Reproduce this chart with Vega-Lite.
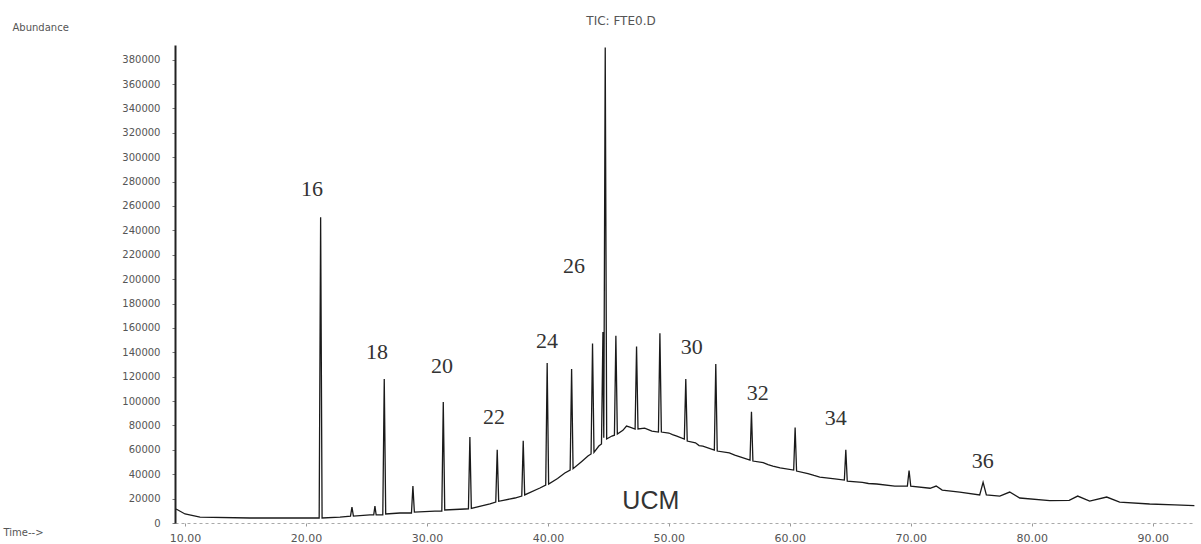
{
  "$schema": "https://vega.github.io/schema/vega-lite/v6.json",
  "autosize": {"type": "none"},
  "padding": {"left": 175, "top": 45, "right": 6, "bottom": 21},
  "width": 1020,
  "height": 478,
  "background": "white",
  "title": {"text": "TIC: FTE0.D", "fontSize": 12, "font": "DejaVu Sans", "fontWeight": "normal", "color": "#555", "anchor": "middle", "dx": -64, "offset": -6},
  "config": {"view": {"stroke": null}, "axis": {"grid": false}},
  "datasets": {
    "trace": [
      {"t": 9.26, "a": 11500}, {"t": 10.0, "a": 7400}, {"t": 11.24, "a": 4900}, {"t": 15.37, "a": 4100},
      {"t": 19.5, "a": 4100}, {"t": 21.09, "a": 4100}, {"t": 21.21, "a": 250800}, {"t": 21.33, "a": 4100},
      {"t": 22.81, "a": 4900}, {"t": 23.68, "a": 5700}, {"t": 23.8, "a": 13100}, {"t": 23.92, "a": 5700},
      {"t": 25.29, "a": 6600}, {"t": 25.6, "a": 6600}, {"t": 25.7, "a": 13900}, {"t": 25.8, "a": 6600},
      {"t": 26.35, "a": 6600}, {"t": 26.47, "a": 118000}, {"t": 26.59, "a": 7400}, {"t": 27.77, "a": 8200},
      {"t": 28.72, "a": 8200}, {"t": 28.84, "a": 30300}, {"t": 28.96, "a": 9000}, {"t": 30.66, "a": 9800},
      {"t": 31.23, "a": 9800}, {"t": 31.35, "a": 99200}, {"t": 31.47, "a": 10700}, {"t": 33.14, "a": 11500},
      {"t": 33.43, "a": 11600}, {"t": 33.55, "a": 70500}, {"t": 33.67, "a": 12000}, {"t": 35.21, "a": 15600},
      {"t": 35.69, "a": 17200}, {"t": 35.81, "a": 60100}, {"t": 35.93, "a": 17800}, {"t": 37.27, "a": 20500},
      {"t": 37.84, "a": 22100}, {"t": 37.96, "a": 67500}, {"t": 38.08, "a": 23000}, {"t": 39.34, "a": 28700},
      {"t": 39.82, "a": 31100}, {"t": 39.94, "a": 131200}, {"t": 40.06, "a": 32000}, {"t": 40.8, "a": 36500},
      {"t": 41.4, "a": 41000}, {"t": 41.84, "a": 43400}, {"t": 41.96, "a": 126200}, {"t": 42.08, "a": 44500},
      {"t": 42.8, "a": 50500}, {"t": 43.31, "a": 54900}, {"t": 43.57, "a": 56600}, {"t": 43.69, "a": 147300},
      {"t": 43.81, "a": 58000}, {"t": 44.21, "a": 63100}, {"t": 44.43, "a": 64800}, {"t": 44.55, "a": 156600},
      {"t": 44.62, "a": 70000}, {"t": 44.74, "a": 390000}, {"t": 44.86, "a": 68900}, {"t": 45.29, "a": 71300},
      {"t": 45.5, "a": 72000}, {"t": 45.62, "a": 153500}, {"t": 45.74, "a": 73000}, {"t": 46.2, "a": 76000},
      {"t": 46.5, "a": 79500}, {"t": 46.78, "a": 78700}, {"t": 47.21, "a": 77100}, {"t": 47.33, "a": 144800},
      {"t": 47.45, "a": 77100}, {"t": 48.0, "a": 77800}, {"t": 48.6, "a": 75400}, {"t": 49.14, "a": 74600},
      {"t": 49.26, "a": 155700}, {"t": 49.38, "a": 74600}, {"t": 50.0, "a": 73800}, {"t": 50.3, "a": 72500},
      {"t": 50.66, "a": 71300}, {"t": 51.28, "a": 68900}, {"t": 51.4, "a": 118000}, {"t": 51.52, "a": 67200},
      {"t": 52.2, "a": 65800}, {"t": 52.5, "a": 63500}, {"t": 52.81, "a": 63100}, {"t": 53.76, "a": 59800},
      {"t": 53.88, "a": 130300}, {"t": 54.0, "a": 59000}, {"t": 55.0, "a": 57500}, {"t": 55.45, "a": 55700},
      {"t": 56.71, "a": 51600}, {"t": 56.83, "a": 91200}, {"t": 56.95, "a": 50800}, {"t": 57.8, "a": 49500},
      {"t": 58.2, "a": 47800}, {"t": 58.6, "a": 46700}, {"t": 59.2, "a": 45200}, {"t": 60.32, "a": 43400},
      {"t": 60.44, "a": 78400}, {"t": 60.56, "a": 42600}, {"t": 61.5, "a": 40500}, {"t": 62.0, "a": 39000},
      {"t": 62.48, "a": 37700}, {"t": 63.72, "a": 36100}, {"t": 64.51, "a": 35200}, {"t": 64.63, "a": 60100},
      {"t": 64.75, "a": 34400}, {"t": 66.0, "a": 33300}, {"t": 66.5, "a": 32400}, {"t": 67.19, "a": 32000},
      {"t": 68.68, "a": 30300}, {"t": 69.72, "a": 30300}, {"t": 69.86, "a": 42900}, {"t": 70.0, "a": 30300},
      {"t": 71.6, "a": 28500}, {"t": 72.1, "a": 30300}, {"t": 72.6, "a": 27000}, {"t": 74.05, "a": 25400},
      {"t": 75.7, "a": 23000}, {"t": 75.98, "a": 33400}, {"t": 76.25, "a": 23000}, {"t": 77.36, "a": 22100},
      {"t": 78.18, "a": 25400}, {"t": 79.01, "a": 20500}, {"t": 81.49, "a": 18300}, {"t": 83.1, "a": 18600},
      {"t": 83.8, "a": 22100}, {"t": 84.79, "a": 18000}, {"t": 86.2, "a": 21300}, {"t": 87.27, "a": 17200},
      {"t": 89.75, "a": 15600}, {"t": 91.82, "a": 14800}, {"t": 93.45, "a": 14200}
    ],
    "labels": [
      {"t": 20.5, "a": 273800, "txt": "16"},
      {"t": 25.87, "a": 140200, "txt": "18"},
      {"t": 31.24, "a": 128700, "txt": "20"},
      {"t": 35.54, "a": 86900, "txt": "22"},
      {"t": 39.92, "a": 149200, "txt": "24"},
      {"t": 42.15, "a": 210700, "txt": "26"},
      {"t": 51.9, "a": 144300, "txt": "30"},
      {"t": 57.36, "a": 106600, "txt": "32"},
      {"t": 63.8, "a": 86100, "txt": "34"},
      {"t": 75.95, "a": 50800, "txt": "36"}
    ],
    "ucm": [
      {"t": 48.51, "a": 18000, "txt": "UCM"}
    ]
  },
  "layer": [
    {
      "data": {"name": "trace"},
      "mark": {"type": "line", "color": "#1a1a1a", "strokeWidth": 1.3, "interpolate": "linear"},
      "encoding": {
        "x": {
          "field": "t", "type": "quantitative",
          "scale": {"domain": [9.17, 93.5], "nice": false, "zero": false},
          "axis": {
            "values": [10, 20, 30, 40, 50, 60, 70, 80, 90],
            "tickCount": 20,
            "format": ".2f",
            "title": "Time-->",
            "titleX": -172, "titleY": 9, "titleAlign": "left", "titleBaseline": "middle",
            "titleFontSize": 10, "titleFontWeight": "normal", "titleColor": "#555", "titleFont": "DejaVu Sans",
            "labelFontSize": 11, "labelFont": "DejaVu Sans", "labelColor": "#555",
            "labelPadding": 6, "tickSize": 3, "tickColor": "#999",
            "domainColor": "#aaa", "domainWidth": 1, "domainDash": [3, 3]
          }
        },
        "y": {
          "field": "a", "type": "quantitative",
          "scale": {"domain": [0, 392000], "nice": false},
          "axis": {
            "values": [0, 20000, 40000, 60000, 80000, 100000, 120000, 140000, 160000, 180000, 200000, 220000, 240000, 260000, 280000, 300000, 320000, 340000, 360000, 380000],
            "tickCount": 40,
            "format": "d",
            "labelOverlap": false,
            "title": "Abundance",
            "titleAngle": 0, "titleX": -163, "titleY": -18, "titleAlign": "left", "titleBaseline": "middle",
            "titleFontSize": 10, "titleFontWeight": "normal", "titleColor": "#555", "titleFont": "DejaVu Sans",
            "labelFontSize": 10, "labelFont": "DejaVu Sans", "labelColor": "#555",
            "labelPadding": 12, "tickSize": 3, "tickColor": "#777",
            "domainColor": "#222", "domainWidth": 2
          }
        }
      }
    },
    {
      "data": {"name": "labels"},
      "mark": {"type": "text", "font": "Liberation Serif", "fontSize": 22, "color": "#333", "baseline": "middle", "align": "center"},
      "encoding": {
        "x": {"field": "t", "type": "quantitative"},
        "y": {"field": "a", "type": "quantitative"},
        "text": {"field": "txt"}
      }
    },
    {
      "data": {"name": "ucm"},
      "mark": {"type": "text", "font": "Liberation Sans", "fontSize": 25, "color": "#333", "baseline": "middle", "align": "center"},
      "encoding": {
        "x": {"field": "t", "type": "quantitative"},
        "y": {"field": "a", "type": "quantitative"},
        "text": {"field": "txt"}
      }
    }
  ]
}
